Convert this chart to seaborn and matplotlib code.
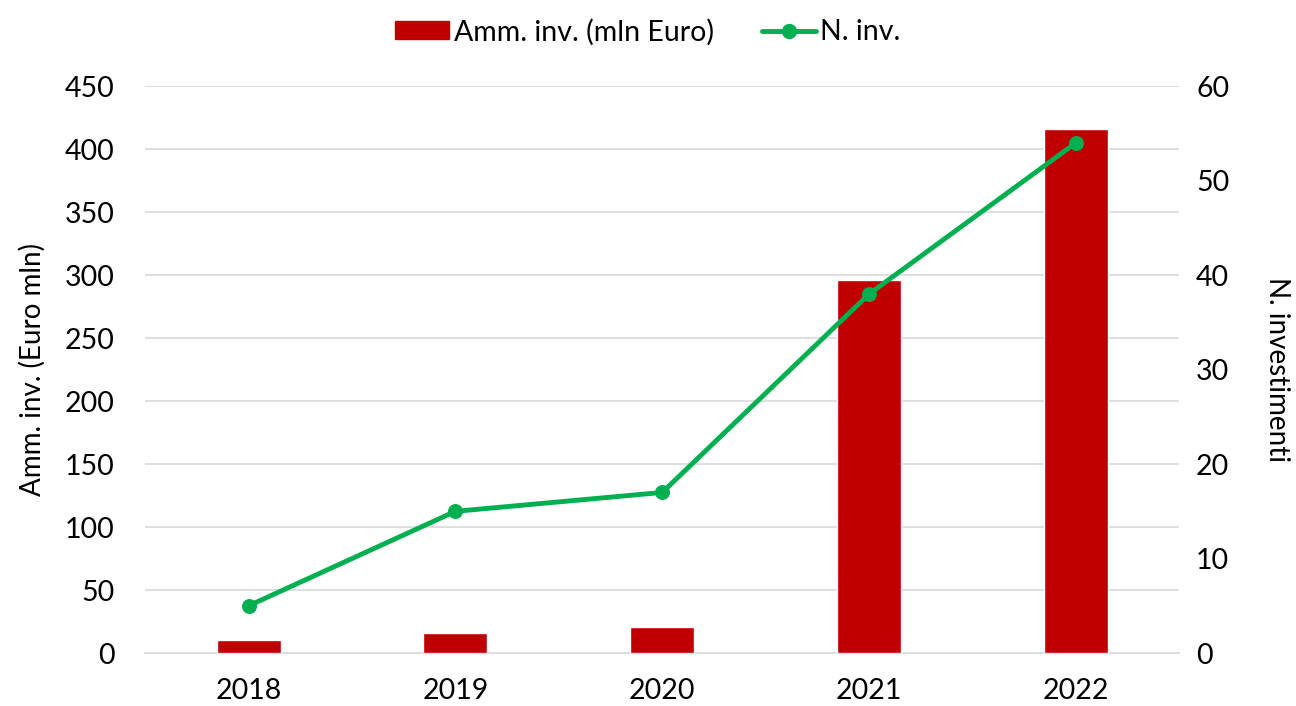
import matplotlib
matplotlib.use("Agg")
import matplotlib.pyplot as plt
import seaborn as sns
import pandas as pd
from matplotlib.lines import Line2D
from matplotlib.patches import Patch

years = ["2018", "2019", "2020", "2021", "2022"]
amount = [10, 16, 21, 296, 416]
count = [5, 15, 17, 38, 54]

sns.set_theme(style="white")
plt.rcParams['font.family'] = ['Lato', 'DejaVu Sans']
plt.rcParams['text.color'] = 'black'
plt.rcParams['axes.labelcolor'] = 'black'
plt.rcParams['xtick.color'] = 'black'
plt.rcParams['ytick.color'] = 'black'

df = pd.DataFrame({"year": years, "amount": amount, "count": count})

fig = plt.figure(figsize=(12.96, 7.06), dpi=100)
ax = fig.add_axes([0.112, 0.075, 0.798, 0.803])
bar_color = "#C00000"
line_color = "#00B050"

sns.barplot(data=df, x="year", y="amount", color=bar_color, width=0.31, ax=ax, saturation=1, zorder=3)
ax.set_ylim(0, 450)
ax.set_yticks(range(0, 451, 50))
ax.set_xlim(-0.5, 4.5)
ax.yaxis.grid(True, color="#D9D9D9", linewidth=1.2, zorder=0)
ax.set_axisbelow(True)
ax.set_xlabel("")
ax.set_ylabel("Amm. inv. (Euro mln)", fontsize=20, labelpad=14)
ax.tick_params(axis="y", labelsize=20.5, length=0, pad=22)
ax.tick_params(axis="x", labelsize=20.5, length=0, pad=18)
for s in ["top", "right", "left"]:
    ax.spines[s].set_visible(False)
ax.spines["bottom"].set_color("#D9D9D9")
ax.spines["bottom"].set_linewidth(1.2)

ax2 = ax.twinx()
sns.lineplot(x=list(range(len(years))), y=count, ax=ax2, color=line_color, linewidth=3.5,
             marker="o", markersize=10, markeredgecolor=line_color, zorder=5)
ax2.set_ylim(0, 60)
ax2.set_yticks(range(0, 61, 10))
ax2.set_xlim(-0.5, 4.5)
ax2.set_ylabel("N. investimenti", fontsize=20, rotation=270, labelpad=44)
ax2.tick_params(axis="y", labelsize=20.5, length=0, pad=12)
for s in ["top", "right", "left", "bottom"]:
    ax2.spines[s].set_visible(False)

handles = [Patch(facecolor=bar_color, edgecolor=bar_color),
           Line2D([0], [0], color=line_color, linewidth=3.5, marker="o", markersize=10)]
labels = ["Amm. inv. (mln Euro)", "N. inv."]
fig.legend(handles, labels, loc="upper center", bbox_to_anchor=(0.5, 1.01), ncol=2,
           frameon=False, fontsize=20.5, handlelength=1.9, handleheight=0.6,
           columnspacing=1.7, handletextpad=0.15)

fig.savefig("out.png", dpi=100)
